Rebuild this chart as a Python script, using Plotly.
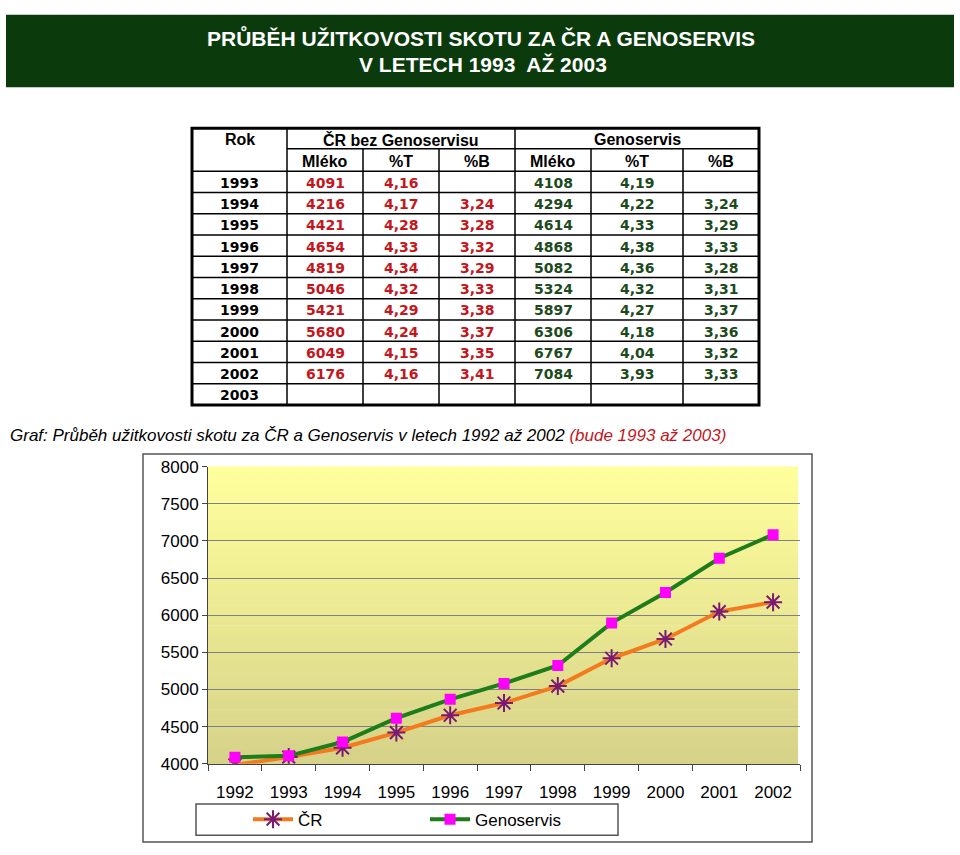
import plotly.graph_objects as go

# ---------------- data ----------------
table_years = ["1993", "1994", "1995", "1996", "1997", "1998", "1999", "2000", "2001", "2002", "2003"]
cr_mleko = ["4091", "4216", "4421", "4654", "4819", "5046", "5421", "5680", "6049", "6176", ""]
cr_T = ["4,16", "4,17", "4,28", "4,33", "4,34", "4,32", "4,29", "4,24", "4,15", "4,16", ""]
cr_B = ["", "3,24", "3,28", "3,32", "3,29", "3,33", "3,38", "3,37", "3,35", "3,41", ""]
g_mleko = ["4108", "4294", "4614", "4868", "5082", "5324", "5897", "6306", "6767", "7084", ""]
g_T = ["4,19", "4,22", "4,33", "4,38", "4,36", "4,32", "4,27", "4,18", "4,04", "3,93", ""]
g_B = ["", "3,24", "3,29", "3,33", "3,28", "3,31", "3,37", "3,36", "3,32", "3,33", ""]

chart_years = ["1992", "1993", "1994", "1995", "1996", "1997", "1998", "1999", "2000", "2001", "2002"]
cr_chart = [3985, 4091, 4216, 4421, 4654, 4819, 5046, 5421, 5680, 6049, 6176]
geno_chart = [4090, 4108, 4294, 4614, 4868, 5082, 5324, 5897, 6306, 6767, 7084]

W, H = 960, 855
def px(x):
    return x / W
def py(y):
    return 1 - y / H

RED = "#c4161c"
GREEN = "#1d4a1d"

fig = go.Figure()

fig.add_trace(go.Scatter(
    x=chart_years, y=cr_chart, name="ČR", mode="lines+markers",
    line=dict(color="#f47a20", width=4),
    marker=dict(symbol="asterisk-open", size=15, color="#7a1a72",
                line=dict(color="#7a1a72", width=2)),
))
fig.add_trace(go.Scatter(
    x=chart_years, y=geno_chart, name="Genoservis", mode="lines+markers",
    line=dict(color="#1e7d1a", width=4),
    marker=dict(symbol="square", size=11, color="#ff00ff"),
))

shapes = []
annotations = []

# banner
shapes.append(dict(type="rect", xref="paper", yref="paper",
                   x0=px(6), x1=px(954), y0=py(80), y1=py(6),
                   fillcolor="#0b3a0d", line=dict(width=0), layer="below"))
TITLE_FONT = dict(family="Liberation Sans, Arial", size=21, color="white")
annotations.append(dict(xref="paper", yref="paper", x=px(481), y=py(29),
                        text="<b>PRŮBĚH UŽITKOVOSTI SKOTU ZA ČR A GENOSERVIS</b>",
                        showarrow=False, font=TITLE_FONT,
                        xanchor="center", yanchor="middle"))
annotations.append(dict(xref="paper", yref="paper", x=px(483), y=py(57),
                        text="<b>V LETECH 1993  AŽ 2003</b>",
                        showarrow=False, font=TITLE_FONT,
                        xanchor="center", yanchor="middle"))

# table geometry
cols = [192, 287, 363, 439, 515, 591, 683, 759]
top, h1, h2 = 122, 143, 166
bottom = 405
nrows = len(table_years)
rh = (bottom - h2) / nrows
rows = [h2 + i * rh for i in range(nrows + 1)]

def hline(x0, x1, y, w=1.5):
    shapes.append(dict(type="line", xref="paper", yref="paper",
                       x0=px(x0), x1=px(x1), y0=py(y), y1=py(y),
                       line=dict(color="black", width=w)))

def vline(x, y0, y1, w=1.5):
    shapes.append(dict(type="line", xref="paper", yref="paper",
                       x0=px(x), x1=px(x), y0=py(y0), y1=py(y1),
                       line=dict(color="black", width=w)))

# outer border
shapes.append(dict(type="rect", xref="paper", yref="paper",
                   x0=px(cols[0]), x1=px(cols[-1]), y0=py(bottom), y1=py(top),
                   line=dict(color="black", width=3)))
hline(cols[1], cols[-1], h1)
hline(cols[0], cols[-1], h2)
for r in rows[1:-1]:
    hline(cols[0], cols[-1], r)
vline(cols[1], top, bottom)
vline(cols[4], top, bottom)
for c in [cols[2], cols[3], cols[5], cols[6]]:
    vline(c, h1, bottom)

HEAD_FONT = "Liberation Sans, Arial"
NUM_FONT = "DejaVu Sans"

def cell_text(cx, cy, text, color="black", size=14, family=NUM_FONT, bold=True):
    if text == "":
        return
    annotations.append(dict(xref="paper", yref="paper", x=px(cx), y=py(cy),
                            text=f"<b>{text}</b>" if bold else text, showarrow=False,
                            font=dict(family=family, size=size, color=color),
                            xanchor="center", yanchor="middle"))

cell_text((cols[0] + cols[1]) / 2, (top + h1) / 2 + 1, "Rok", size=16, family=HEAD_FONT)
cell_text((cols[1] + cols[4]) / 2, (top + h1) / 2 + 1, "ČR bez Genoservisu", size=16, family=HEAD_FONT)
cell_text((cols[4] + cols[7]) / 2, (top + h1) / 2 + 1, "Genoservis", size=16, family=HEAD_FONT)
subheads = ["Mléko", "%T", "%B", "Mléko", "%T", "%B"]
for i, s in enumerate(subheads):
    cell_text((cols[i + 1] + cols[i + 2]) / 2, (h1 + h2) / 2 + 1, s, size=16, family=HEAD_FONT)

col_data = [(table_years, "black"), (cr_mleko, RED), (cr_T, RED), (cr_B, RED),
            (g_mleko, GREEN), (g_T, GREEN), (g_B, GREEN)]
for ci, (vals, colr) in enumerate(col_data):
    cx = (cols[ci] + cols[ci + 1]) / 2
    for ri, v in enumerate(vals):
        cy = (rows[ri] + rows[ri + 1]) / 2 + 1
        cell_text(cx, cy, v, color=colr, size=14)

# caption
annotations.append(dict(xref="paper", yref="paper", x=px(8), y=py(436),
                        text="<i>Graf: Průběh užitkovosti skotu za ČR a Genoservis v letech 1992 až 2002 "
                             "<span style='color:#c4161c'>(bude 1993 až 2003)</span></i>",
                        showarrow=False, font=dict(family="Liberation Sans, Arial", size=17, color="black"),
                        xanchor="left", yanchor="middle"))

# chart border
shapes.append(dict(type="rect", xref="paper", yref="paper",
                   x0=px(143), x1=px(812), y0=py(852), y1=py(455),
                   line=dict(color="#555555", width=1.5), layer="below"))

# plot area gradient
ax0, ax1, ay_top, ay_bot = 208, 800, 468, 772
nb = 60
top_c = (255, 255, 156)
bot_c = (214, 210, 137)
for i in range(nb):
    t = i / (nb - 1)
    c = tuple(round(top_c[k] + (bot_c[k] - top_c[k]) * t) for k in range(3))
    y0 = ay_top + (ay_bot - ay_top) * i / nb
    y1 = ay_top + (ay_bot - ay_top) * (i + 1) / nb
    shapes.append(dict(type="rect", xref="paper", yref="paper",
                       x0=px(ax0), x1=px(ax1 - 2), y0=py(y1 + 0.5), y1=py(y0),
                       fillcolor=f"rgb{c}", line=dict(width=0), layer="below"))

# legend box
shapes.append(dict(type="rect", xref="paper", yref="paper",
                   x0=px(196), x1=px(618), y0=py(845), y1=py(813),
                   line=dict(color="#555555", width=1.5), fillcolor="white", layer="below"))

fig.update_layout(
    width=W, height=H,
    margin=dict(l=0, r=0, t=0, b=0),
    paper_bgcolor="white",
    plot_bgcolor="rgba(0,0,0,0)",
    shapes=shapes,
    annotations=annotations,
    showlegend=True,
    legend=dict(orientation="h", x=px(248), y=py(829), xanchor="left", yanchor="middle",
                bgcolor="rgba(0,0,0,0)", borderwidth=0,
                font=dict(family="Liberation Sans, Arial", size=17, color="black"),
                entrywidth=122, entrywidthmode="pixels", itemwidth=40),
    xaxis=dict(domain=[px(ax0), px(ax1)], type="category", range=[-0.5, 10.5],
               showgrid=False, showline=True, linecolor="#444444", linewidth=1,
               ticks="outside", ticklen=6, tickcolor="#444444", tickson="boundaries",
               ticklabelstandoff=13,
               tickfont=dict(family="Liberation Sans, Arial", size=17, color="black"),
               zeroline=False),
    yaxis=dict(domain=[py(ay_bot), py(ay_top)], range=[4000, 8000], dtick=500,
               showgrid=True, gridcolor="#808080", gridwidth=1,
               showline=True, linecolor="#444444", linewidth=1,
               ticks="outside", ticklen=5, tickcolor="#444444",
               tickfont=dict(family="Liberation Sans, Arial", size=17, color="black"),
               zeroline=False),
)

fig.write_html("out.html",
               config={"displayModeBar": False},
               post_script=("document.documentElement.style.margin='0px';"
                            "document.body.style.margin='0px';"
                            "document.body.style.overflow='hidden';"))
